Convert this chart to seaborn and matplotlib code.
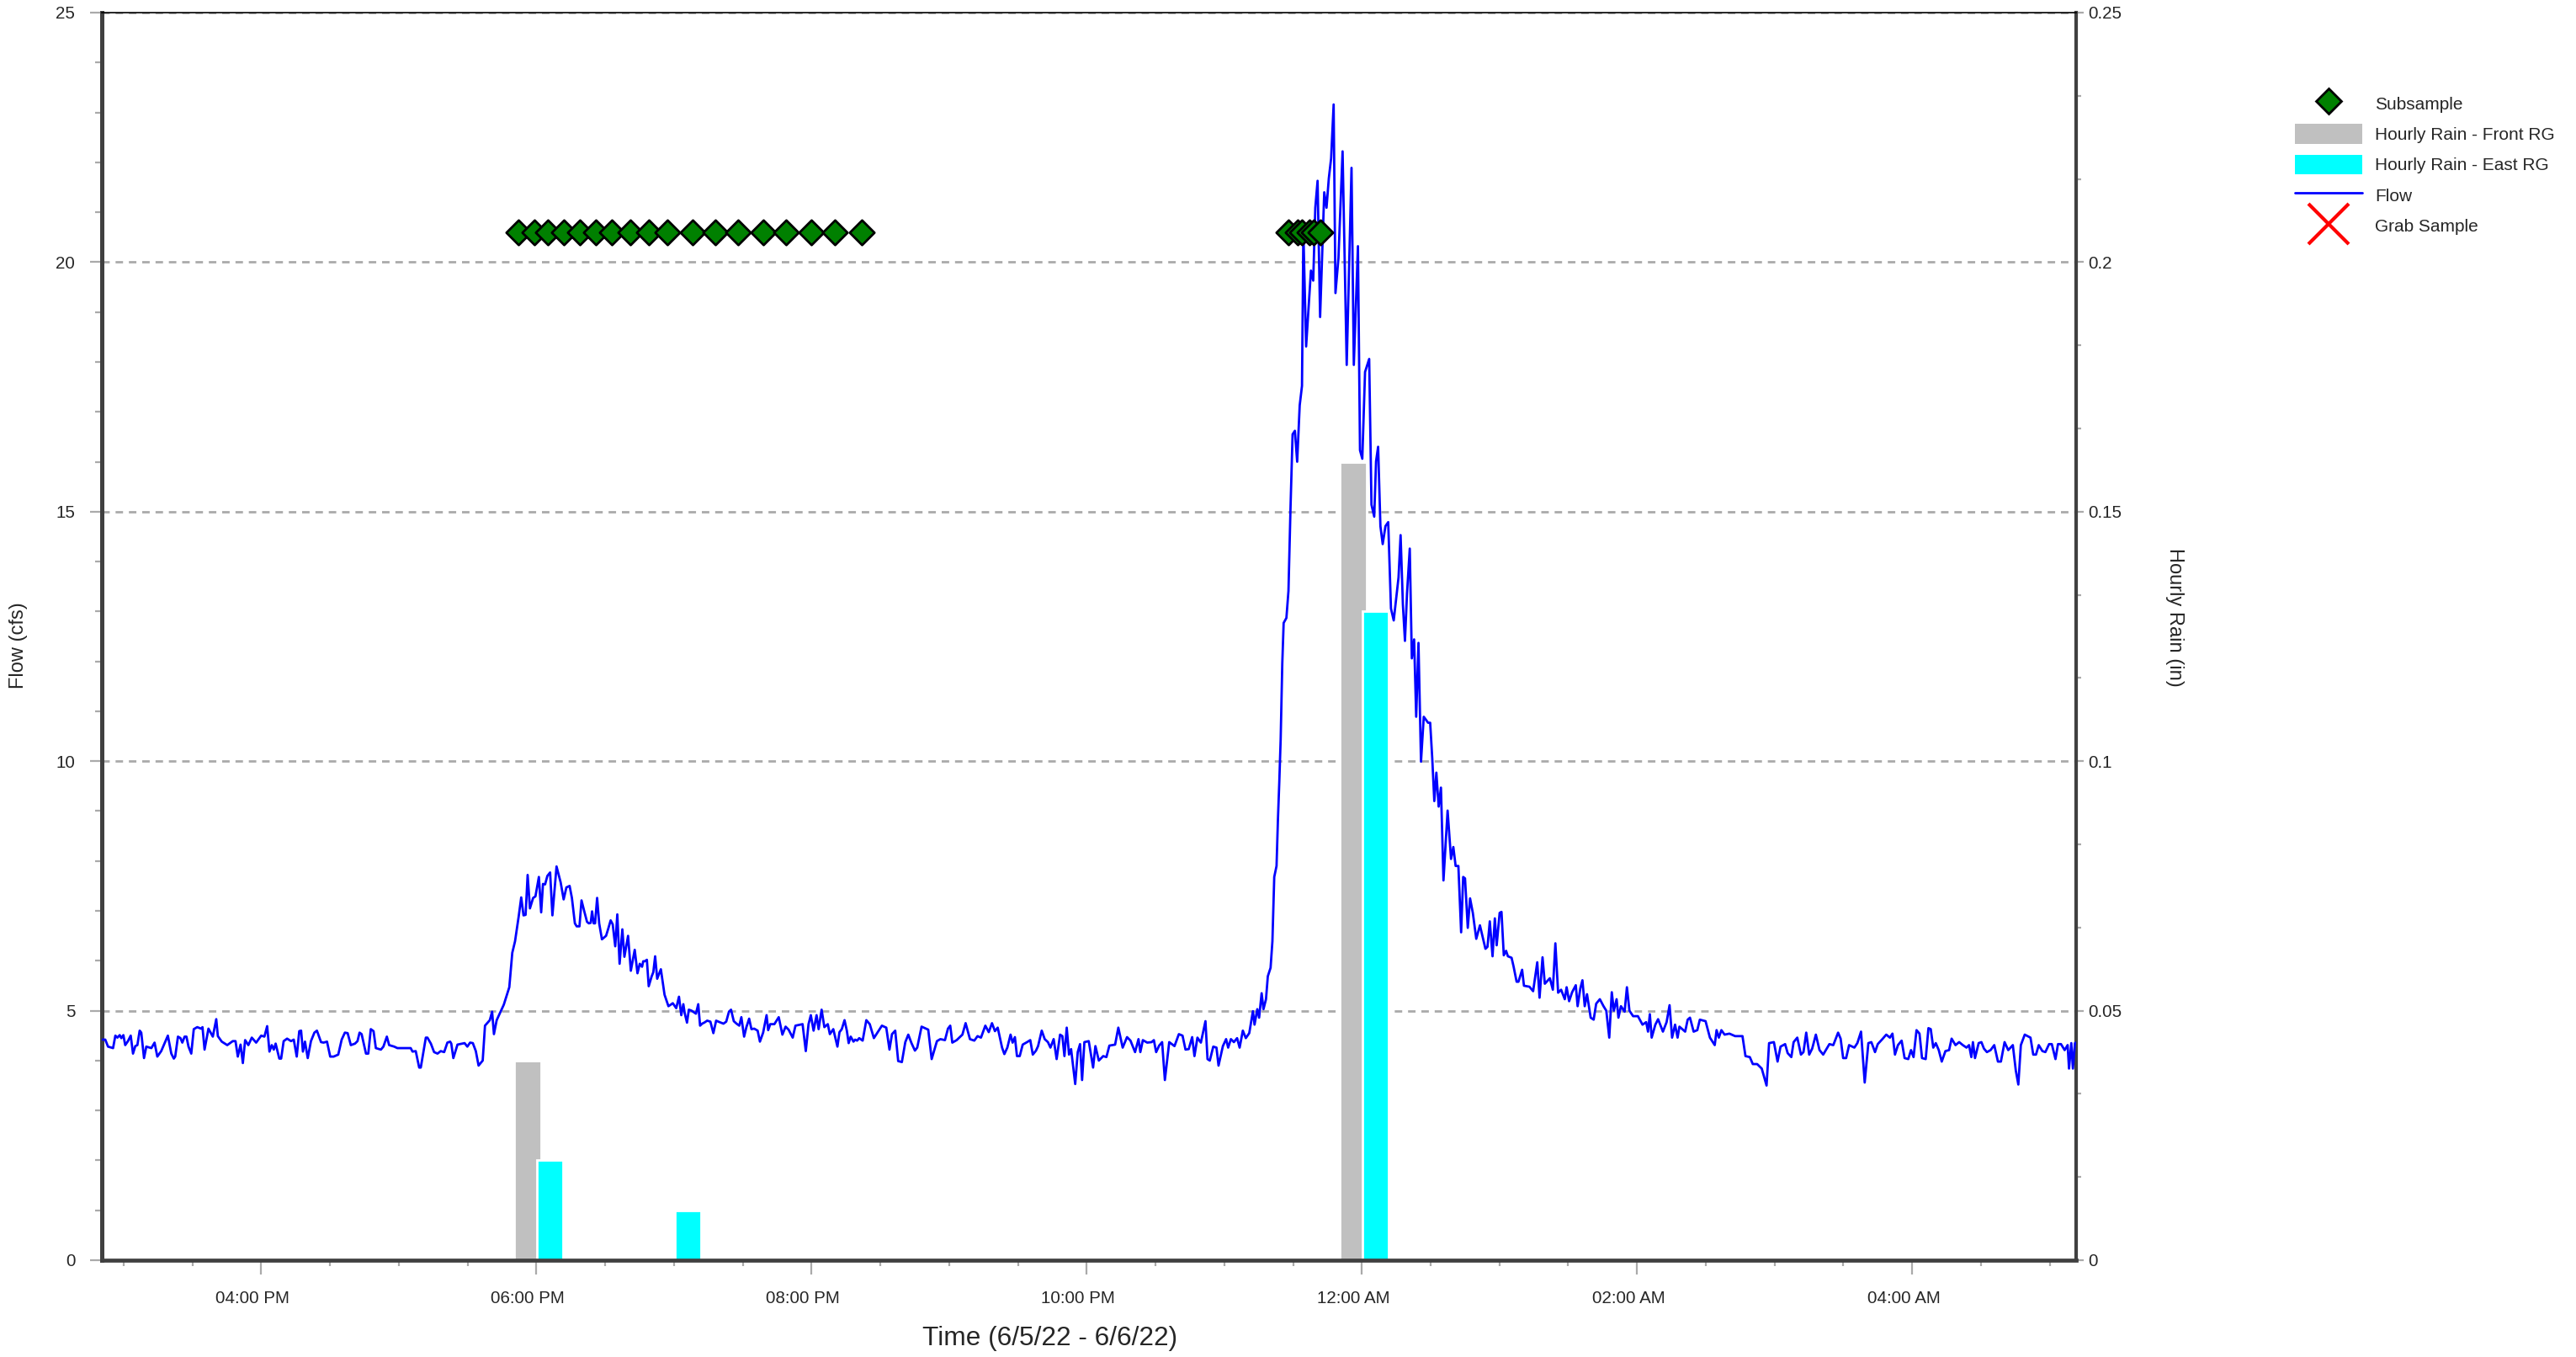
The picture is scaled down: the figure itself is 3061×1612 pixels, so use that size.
#!/usr/bin/env python3
"""
Storm event hydrograph: flow, hourly rain at two gauges and subsample times.
"""

import matplotlib
matplotlib.use("Agg")
import matplotlib.pyplot as plt
import matplotlib.dates as mdates
import matplotlib.transforms as mtransforms
from matplotlib.lines import Line2D
from matplotlib.patches import Patch
from matplotlib.ticker import MultipleLocator, AutoMinorLocator, FuncFormatter
import numpy as np
import pandas as pd
import seaborn as sns

sns.set_style("white")
plt.rcParams['font.family'] = ['Liberation Sans', 'DejaVu Sans']

DAY0 = pd.Timestamp("2022-06-05")

# Flow record: minutes after 6/5/22 00:00 and flow in cfs
flow_min = [
    890.3, 892.0, 893.2, 895.4, 896.4, 897.3, 898.3, 899.0, 899.9, 900.7,
    901.9, 903.1, 904.1, 905.1, 906.0, 907.0, 907.7, 908.9, 909.9, 912.1,
    913.5, 914.7, 916.4, 919.3, 920.8, 921.9, 922.5, 923.7, 924.8, 925.6,
    926.6, 927.4, 928.3, 929.5, 930.6, 932.1, 933.8, 934.4, 935.3, 937.0,
    938.9, 940.4, 941.1, 942.8, 945.2, 947.6, 948.8, 949.8, 951.0, 952.0,
    953.0, 954.4, 955.9, 957.8, 960.0, 961.4, 962.6, 963.6, 964.6, 965.5,
    966.3, 967.9, 968.7, 969.8, 971.3, 973.0, 974.2, 975.5, 976.6, 977.4,
    978.2, 979.1, 980.3, 981.7, 983.2, 984.3, 986.1, 987.2, 988.7, 990.1,
    991.6, 993.6, 995.1, 996.5, 997.7, 999.1, 1000.9, 1002.0, 1002.9, 1003.8,
    1005.7, 1006.7, 1007.8, 1009.0, 1010.0, 1012.2, 1013.3, 1014.8, 1015.8, 1018.0,
    1019.4, 1025.2, 1026.0, 1027.4, 1028.9, 1029.6, 1031.8, 1032.5, 1034.0, 1035.4,
    1036.9, 1038.3, 1039.8, 1041.2, 1042.4, 1042.9, 1043.8,
    1045.6, 1048.7, 1049.9, 1051.1, 1052.3, 1053.6, 1054.8, 1056.6, 1057.6, 1059.7,
    1060.7, 1061.5, 1062.7, 1065.8, 1068.2, 1069.5, 1070.7, 1072.3, 1073.4, 1074.4,
    1075.3, 1076.2, 1077.2, 1078.6, 1079.6, 1081.1, 1082.1, 1082.9, 1083.8, 1084.8,
    1086.0, 1087.0, 1088.8, 1090.6, 1091.9, 1093.1, 1094.5, 1095.5, 1096.8, 1097.6,
    1098.8, 1099.7, 1100.9, 1102.1, 1102.9, 1103.7, 1104.3, 1105.0, 1105.6, 1106.5,
    1107.4, 1108.6, 1110.4, 1111.4, 1112.4, 1113.3, 1114.4, 1115.3, 1116.3, 1117.5,
    1118.4, 1120.0, 1121.2, 1122.9, 1124.1, 1125.1, 1126.1, 1126.6, 1127.3, 1128.2,
    1129.0, 1130.3, 1131.0, 1131.8, 1132.7, 1134.3, 1135.9, 1137.6, 1138.6, 1139.5,
    1141.0, 1142.2, 1143.2, 1144.1, 1144.7, 1145.7, 1146.5, 1147.7, 1149.6, 1150.6,
    1151.4, 1152.3, 1153.2, 1154.5, 1155.9, 1157.2, 1158.4, 1159.4, 1161.6, 1162.8,
    1164.0, 1164.9, 1166.1, 1167.3, 1168.5, 1169.4, 1170.6, 1171.6, 1172.8, 1173.8,
    1175.0, 1176.5, 1177.5, 1178.9, 1180.4, 1181.1, 1182.0, 1183.8, 1185.7, 1187.3,
    1188.7, 1190.0, 1191.8, 1193.0, 1196.1, 1197.5, 1198.7, 1199.7, 1200.9, 1202.2,
    1203.1, 1204.4, 1205.6, 1207.1, 1208.0, 1209.5, 1211.3, 1212.2, 1213.2, 1214.4,
    1215.4, 1216.2, 1217.1, 1218.3, 1219.0, 1219.9, 1220.8, 1222.3, 1223.9, 1225.4,
    1227.2,
    1230.7, 1232.6, 1234.0, 1235.1, 1236.5, 1237.8, 1239.4, 1240.9, 1242.2, 1243.6,
    1245.1, 1246.1, 1248.0, 1250.9, 1252.4, 1254.7, 1256.2, 1258.2, 1259.5, 1260.5,
    1261.4, 1263.3, 1265.8, 1267.2, 1269.1, 1271.0, 1272.4, 1273.9, 1275.8, 1277.3,
    1278.7, 1280.0, 1281.2, 1283.1, 1284.1, 1285.4, 1286.8, 1287.7, 1288.7, 1289.6,
    1290.8, 1292.1, 1294.0, 1295.4, 1296.5, 1297.9, 1298.8, 1300.4, 1301.7, 1303.1,
    1304.2, 1305.6, 1306.9, 1308.4, 1309.4, 1310.3, 1311.3, 1312.3, 1313.2, 1315.0,
    1316.1, 1317.1, 1318.0, 1319.0, 1320.9, 1322.8, 1323.8, 1325.3, 1327.2, 1328.6,
    1329.9, 1332.4, 1333.8, 1335.7, 1337.6, 1339.1, 1341.1, 1342.6, 1343.4, 1344.5,
    1346.4, 1348.3, 1349.3, 1350.3, 1351.6, 1352.9, 1354.1, 1356.0, 1358.3, 1360.2,
    1361.8, 1363.1, 1364.5, 1366.0, 1367.0, 1368.3, 1369.8, 1371.8, 1372.7, 1373.7,
    1375.2, 1376.6, 1377.5, 1379.4, 1380.8, 1381.7, 1382.9, 1384.2, 1385.6, 1386.7,
    1388.1, 1389.4, 1390.9, 1392.5, 1393.2, 1394.4, 1395.2, 1396.3, 1397.1, 1398.2,
    1399.0, 1400.2,
    1401.0, 1401.8, 1402.8, 1403.4, 1404.0, 1404.6, 1405.3, 1405.9, 1407.1, 1408.0,
    1408.9, 1409.8, 1410.8, 1411.8, 1412.9, 1413.9, 1414.5, 1415.7, 1417.8, 1418.8,
    1419.7, 1420.7, 1421.8, 1423.6, 1424.6, 1425.6, 1426.6, 1427.7, 1428.5, 1429.8,
    1431.6, 1433.4, 1435.5, 1436.5, 1438.3, 1439.2, 1440.2, 1441.4, 1443.2, 1444.2,
    1445.4, 1446.2, 1447.1, 1448.1, 1449.1, 1450.3, 1451.5, 1452.7, 1453.9, 1456.0,
    1456.9, 1457.9, 1458.8, 1459.7, 1460.9, 1461.8, 1462.8, 1463.7, 1464.7, 1465.8,
    1467.0, 1468.9, 1469.8, 1470.7, 1471.6, 1472.5, 1473.5, 1474.5, 1475.6, 1477.4,
    1478.9, 1479.9, 1480.9, 1482.1, 1483.3, 1484.2, 1485.0, 1486.2, 1487.2, 1488.4,
    1489.9, 1491.5, 1493.9, 1494.8, 1495.8, 1497.0, 1498.0, 1498.8, 1500.1, 1500.9,
    1501.9, 1502.9, 1503.7, 1505.3,
    1506.2, 1507.5, 1508.3, 1509.9, 1510.7, 1513.1, 1514.7, 1516.5, 1517.5, 1518.8,
    1519.8, 1522.0, 1523.3, 1524.4, 1525.6, 1526.9, 1528.5, 1529.3, 1530.4, 1531.7,
    1533.3, 1534.1, 1535.3, 1536.2, 1537.2, 1538.2, 1539.8, 1541.1, 1542.2, 1543.8,
    1545.4, 1546.6, 1547.9, 1549.0, 1549.9, 1551.1, 1551.9, 1553.0, 1554.6, 1555.6,
    1556.7, 1558.3, 1560.4, 1562.4, 1564.0, 1564.8, 1565.6, 1566.4, 1568.0, 1569.2,
    1571.3, 1572.9, 1574.2, 1575.3, 1576.6, 1577.7, 1578.5, 1581.0, 1582.1, 1583.1,
    1584.7, 1586.3, 1587.4, 1589.9, 1591.8, 1593.9, 1594.7, 1595.7, 1596.8, 1598.2,
    1600.3, 1602.8, 1606.0, 1607.3, 1609.2, 1610.5, 1612.4, 1614.4, 1616.5, 1617.6,
    1619.7, 1621.3, 1622.6, 1624.6, 1625.7, 1627.3, 1628.3, 1629.9, 1631.5, 1632.6,
    1633.8, 1635.1, 1636.4, 1638.0, 1639.6, 1641.2, 1643.9, 1645.6, 1647.7, 1648.8,
    1649.9, 1651.2, 1652.5, 1654.8, 1656.1, 1657.7, 1659.3, 1660.9, 1662.2, 1663.8,
    1665.0, 1667.0, 1668.7, 1670.3, 1671.4, 1672.5, 1673.8, 1675.4, 1676.7, 1678.3,
    1679.5, 1680.6, 1681.9, 1683.2, 1684.3, 1685.9, 1687.1, 1688.1, 1689.2, 1690.3,
    1691.6, 1692.9, 1694.5, 1696.1, 1697.2, 1698.9, 1700.5, 1702.1, 1703.7, 1704.8,
    1705.8, 1706.5, 1707.4, 1709.0, 1710.2, 1711.3, 1712.6, 1714.2, 1715.8, 1717.4,
    1718.7, 1720.3, 1721.9, 1723.9, 1725.2, 1726.3, 1727.4, 1729.1, 1731.6, 1732.8,
    1734.0, 1735.2, 1736.8, 1738.1, 1739.7, 1740.9, 1742.5, 1743.6, 1744.9, 1746.5,
    1747.8, 1748.4, 1749.4, 1750.1, 1751.0, 1752.2,
]

flow_cfs = [
    4.42, 4.42, 4.28, 4.25, 4.50, 4.46, 4.51, 4.45, 4.51, 4.31,
    4.39, 4.50, 4.14, 4.29, 4.31, 4.60, 4.56, 4.05, 4.28, 4.25,
    4.36, 4.08, 4.19, 4.50, 4.14, 4.04, 4.08, 4.48, 4.45, 4.36,
    4.48, 4.48, 4.28, 4.14, 4.63, 4.67, 4.64, 4.67, 4.22, 4.64,
    4.48, 4.83, 4.49, 4.38, 4.31, 4.39, 4.39, 4.08, 4.32, 3.95,
    4.41, 4.31, 4.46, 4.36, 4.50, 4.48, 4.69, 4.18, 4.31, 4.22,
    4.34, 4.04, 4.04, 4.39, 4.44, 4.39, 4.42, 4.08, 4.59, 4.60,
    4.18, 4.38, 4.05, 4.39, 4.56, 4.60, 4.37, 4.36, 4.38, 4.08,
    4.08, 4.12, 4.42, 4.56, 4.55, 4.31, 4.34, 4.39, 4.56, 4.53,
    4.14, 4.14, 4.63, 4.59, 4.25, 4.22, 4.28, 4.48, 4.31, 4.28,
    4.25, 4.25, 4.18, 4.19, 3.86, 3.86, 4.46, 4.46, 4.34, 4.17,
    4.14, 4.19, 4.17, 4.36, 4.38, 4.34, 4.05,
    4.32, 4.35, 4.28, 4.36, 4.35, 4.19, 3.90, 4.00, 4.70, 4.81,
    4.98, 4.53, 4.81, 5.12, 5.47, 6.16, 6.39, 6.89, 7.27, 6.91,
    6.92, 7.72, 7.05, 7.26, 7.29, 7.68, 6.97, 7.54, 7.53, 7.70,
    7.77, 6.91, 7.89, 7.57, 7.23, 7.47, 7.50, 7.26, 6.75, 6.69,
    6.69, 7.21, 6.99, 6.78, 6.75, 6.76, 6.99, 6.75, 6.75, 7.26,
    6.75, 6.43, 6.50, 6.65, 6.81, 6.73, 6.29, 6.93, 5.94, 6.63,
    6.08, 6.50, 5.80, 6.22, 5.75, 5.94, 5.88, 5.99, 5.99, 6.02,
    5.49, 5.69, 5.77, 6.09, 5.64, 5.83, 5.32, 5.09, 5.12, 5.15,
    5.05, 5.28, 4.91, 5.13, 4.95, 4.76, 5.02, 5.00, 4.94, 5.13,
    4.70, 4.74, 4.76, 4.80, 4.78, 4.55, 4.80, 4.78, 4.74, 4.78,
    4.98, 5.02, 4.79, 4.74, 4.70, 4.87, 4.48, 4.67, 4.84, 4.63,
    4.64, 4.60, 4.38, 4.56, 4.91, 4.61, 4.73, 4.73, 4.87, 4.52,
    4.68, 4.62, 4.46, 4.70, 4.73, 4.19, 4.73, 4.91, 4.60, 4.91,
    4.63, 5.02, 4.67, 4.73, 4.53, 4.63, 4.28, 4.57, 4.63, 4.81,
    4.60, 4.35, 4.48, 4.38, 4.42, 4.40, 4.45, 4.40, 4.81, 4.73,
    4.45,
    4.70, 4.66, 4.22, 4.53, 4.60, 3.99, 3.97, 4.37, 4.52, 4.35,
    4.20, 4.26, 4.68, 4.62, 4.03, 4.39, 4.43, 4.41, 4.64, 4.70,
    4.36, 4.41, 4.52, 4.75, 4.43, 4.40, 4.49, 4.46, 4.70, 4.57,
    4.75, 4.59, 4.66, 4.26, 4.13, 4.26, 4.52, 4.36, 4.47, 4.09,
    4.09, 4.32, 4.37, 4.41, 4.12, 4.20, 4.29, 4.60, 4.43, 4.37,
    4.26, 4.43, 4.03, 4.52, 4.49, 4.09, 4.66, 4.12, 4.23, 3.53,
    4.17, 4.33, 3.61, 4.37, 4.39, 3.86, 4.29, 4.00, 4.09, 4.07,
    4.30, 4.32, 4.66, 4.26, 4.47, 4.40, 4.17, 4.43, 4.17, 4.41,
    4.36, 4.37, 4.41, 4.17, 4.30, 4.37, 3.61, 4.37, 4.29, 4.53,
    4.50, 4.22, 4.23, 4.47, 4.09, 4.46, 4.36, 4.79, 4.03, 4.00,
    4.28, 4.26, 3.90, 4.29, 4.43, 4.26, 4.43, 4.37, 4.45, 4.26,
    4.60, 4.45, 4.55, 4.99, 4.72, 5.03, 4.86, 5.35, 5.03, 5.23,
    5.69, 5.86,
    6.39, 7.68, 7.90, 8.82, 9.58, 10.44, 11.95, 12.77, 12.87, 13.41,
    15.09, 16.55, 16.62, 16.00, 17.13, 17.52, 20.61, 18.31, 19.83, 19.63,
    21.09, 21.63, 18.90, 21.40, 21.09, 21.68, 22.08, 23.16, 19.38, 20.08,
    22.22, 17.94, 21.89, 17.94, 20.32, 16.23, 16.06, 17.80, 18.06, 15.14,
    14.90, 16.01, 16.30, 14.71, 14.35, 14.71, 14.79, 13.06, 12.82, 13.68,
    14.53, 13.14, 12.41, 13.36, 14.26, 12.06, 12.44, 10.89, 12.37, 9.99,
    10.89, 10.77, 10.77, 10.06, 9.20, 9.77, 9.09, 9.47, 7.61, 9.01,
    8.04, 8.28, 7.90, 7.90, 6.57, 7.68, 7.65, 6.66, 7.25, 6.96,
    6.44, 6.71, 6.24, 6.28, 6.79, 6.09, 6.85, 6.31, 6.96, 6.98,
    6.11, 6.20, 6.09, 6.06,
    5.88, 5.58, 5.58, 5.82, 5.50, 5.48, 5.39, 5.97, 5.26, 6.07,
    5.54, 5.65, 5.42, 6.35, 5.36, 5.42, 5.23, 5.47, 5.19, 5.37,
    5.51, 5.09, 5.45, 5.61, 5.09, 5.33, 4.86, 4.82, 5.14, 5.23,
    5.09, 5.00, 4.46, 5.37, 5.00, 5.23, 4.86, 5.09, 4.98, 5.47,
    5.00, 4.89, 4.89, 4.72, 4.77, 4.58, 4.93, 4.46, 4.72, 4.83,
    4.58, 4.77, 5.11, 4.46, 4.72, 4.46, 4.68, 4.58, 4.82, 4.86,
    4.58, 4.61, 4.82, 4.79, 4.46, 4.31, 4.61, 4.46, 4.61, 4.52,
    4.54, 4.49, 4.49, 4.09, 4.07, 3.93, 3.93, 3.84, 3.50, 4.35,
    4.37, 3.98, 4.28, 4.33, 4.15, 4.07, 4.37, 4.46, 4.12, 4.17,
    4.56, 4.12, 4.24, 4.52, 4.21, 4.12, 4.33, 4.31, 4.56, 4.44,
    4.05, 4.05, 4.31, 4.26, 4.35, 4.58, 3.56, 4.35, 4.37, 4.17,
    4.33, 4.43, 4.52, 4.46, 4.54, 4.12, 4.31, 4.40, 4.05, 4.03,
    4.21, 4.07, 4.61, 4.54, 4.05, 4.03, 4.65, 4.63, 4.26, 4.35,
    4.21, 3.98, 4.19, 4.21, 4.44, 4.31, 4.37, 4.31, 4.26, 4.31,
    4.07, 4.37, 4.05, 4.35, 4.37, 4.24, 4.17, 4.21, 4.31, 3.98,
    3.98, 4.37, 4.21, 4.31, 3.80, 3.52, 4.31, 4.52, 4.46, 4.12,
    4.12, 4.31, 4.19, 4.17, 4.33, 4.33, 4.03, 4.33, 4.33, 4.21,
    4.31, 3.84, 4.35, 3.84, 4.35, 4.37,
]

# Composite subsample times
subsample_times = [
    "2022-06-05 17:52", "2022-06-05 17:59", "2022-06-05 18:05", "2022-06-05 18:12",
    "2022-06-05 18:19", "2022-06-05 18:26", "2022-06-05 18:33", "2022-06-05 18:41",
    "2022-06-05 18:49", "2022-06-05 18:57", "2022-06-05 19:08", "2022-06-05 19:18",
    "2022-06-05 19:28", "2022-06-05 19:39", "2022-06-05 19:49", "2022-06-05 20:00",
    "2022-06-05 20:10", "2022-06-05 20:22",
    "2022-06-05 23:28", "2022-06-05 23:32", "2022-06-05 23:34", "2022-06-05 23:37",
    "2022-06-05 23:39", "2022-06-05 23:42",
]
SUBSAMPLE_LEVEL = 20.6  # markers are drawn as a row at this flow level

# Hourly rain (in) at the two rain gauges
rain_hours = ["2022-06-05 18:00", "2022-06-05 19:00", "2022-06-06 00:00"]
rain_front = [0.04, 0.00, 0.16]
rain_east = [0.02, 0.01, 0.13]

X_START = "2022-06-05 14:50:30"
X_END = "2022-06-06 05:11:30"

SPINE = '#404040'
TICK = '#AAAAAA'
DPI = 200


def to_num(times):
    return mdates.date2num(pd.to_datetime(times))


def main():
    assert len(flow_min) == len(flow_cfs)
    flow_x = mdates.date2num(DAY0 + pd.to_timedelta(flow_min, unit='m'))
    sub_x = to_num(subsample_times)
    rain_x = to_num(rain_hours)

    fig = plt.figure(figsize=(3061 / DPI, 1612 / DPI), dpi=DPI)
    fig.patch.set_facecolor('white')
    ax = fig.add_axes([121 / 3061, 1 - 1497 / 1612, (2467 - 121) / 3061, (1497 - 15) / 1612])
    ax2 = ax.twinx()
    # flow on top of the rain bars, gridlines below the bars
    ax.set_zorder(ax2.get_zorder() + 1)
    ax.patch.set_visible(False)

    # Rain bars (right axis)
    minute = 1.0 / 1440
    bar_w = 11.5 * minute
    ax2.bar(rain_x - 3.8 * minute, rain_front, width=bar_w, color='#C0C0C0', zorder=2)
    ax2.bar(rain_x + 6.0 * minute, rain_east, width=bar_w, color='#00FFFF', zorder=3)
    ax2.set_ylim(0, 0.25)
    ax2.yaxis.set_major_locator(MultipleLocator(0.05))
    ax2.yaxis.set_minor_locator(AutoMinorLocator(3))
    ax2.yaxis.set_major_formatter(FuncFormatter(lambda v, p: f'{v:g}'))
    ax2.set_axisbelow(True)
    ax2.yaxis.grid(True, which='major', color=TICK, linestyle=(0, (3.2, 2.5)), linewidth=1.0)
    for s in ax2.spines.values():
        s.set_visible(False)
    ax2.tick_params(axis='y', which='major', right=True, length=3.2, width=0.8,
                    color=TICK, labelsize=7.4, pad=2)
    ax2.tick_params(axis='y', which='minor', right=True, length=2.2, width=0.8, color=TICK)
    ax2.set_ylabel('Hourly Rain (in)', fontsize=8.5, rotation=270, va='bottom')
    ax2.yaxis.set_label_coords(1.045, 0.515)

    # Flow line and subsample markers (left axis)
    sns.lineplot(x=flow_x, y=flow_cfs, ax=ax, color='#0000FF', linewidth=1.0,
                 estimator=None, sort=False, legend=False, zorder=3)
    sns.scatterplot(x=sub_x, y=np.full(len(sub_x), SUBSAMPLE_LEVEL), ax=ax,
                    marker='D', s=56, color='#008000', edgecolor='black',
                    linewidth=1.0, legend=False, zorder=4)

    ax.set_xlim(to_num([X_START])[0], to_num([X_END])[0])
    ax.set_ylim(0, 25)
    ax.yaxis.set_major_locator(MultipleLocator(5))
    ax.yaxis.set_minor_locator(AutoMinorLocator(5))
    ax.xaxis.set_major_locator(mdates.HourLocator(byhour=range(0, 24, 2)))
    ax.xaxis.set_minor_locator(mdates.MinuteLocator(byminute=[0, 30]))
    ax.xaxis.set_major_formatter(mdates.DateFormatter('%I:%M %p'))
    ax.grid(False)

    for side in ('left', 'bottom', 'right'):
        ax.spines[side].set_color(SPINE)
    ax.spines['left'].set_linewidth(1.8)
    ax.spines['bottom'].set_linewidth(1.7)
    ax.spines['right'].set_linewidth(1.5)
    ax.spines['top'].set_color('black')
    ax.spines['top'].set_linewidth(0.6)

    ax.tick_params(axis='y', which='major', left=True, length=4.9, width=0.8,
                   color=TICK, labelsize=7.4, pad=6.5)
    ax.tick_params(axis='y', which='minor', left=True, length=2.9, width=0.8, color=TICK)
    ax.tick_params(axis='x', which='major', bottom=True, length=6.0, width=0.8,
                   color=TICK, labelsize=7.4, pad=7)
    ax.tick_params(axis='x', which='minor', bottom=True, length=2.5, width=0.8, color=TICK)

    # time labels sit a little left of their tick marks
    shift = mtransforms.ScaledTranslation(-10 / DPI, 0, fig.dpi_scale_trans)
    for tick in ax.xaxis.get_major_ticks():
        tick.label1.set_transform(tick.label1.get_transform() + shift)

    ax.set_ylabel('Flow (cfs)', fontsize=8.5)
    ax.yaxis.set_label_coords(-0.0375, 0.4926)
    ax.set_xlabel('Time (6/5/22 - 6/6/22)', fontsize=11.4)
    ax.xaxis.set_label_coords(0.480, -0.0526)

    # Legend outside the plot on the right
    handles = [
        Line2D([], [], linestyle='none', marker='D', markersize=7.6,
               markerfacecolor='#008000', markeredgecolor='black', markeredgewidth=1.0),
        Patch(facecolor='#C0C0C0', edgecolor='none'),
        Patch(facecolor='#00FFFF', edgecolor='none'),
        Line2D([], [], color='#0000FF', linewidth=1.0),
        Line2D([], [], linestyle='none', marker='x', markersize=17,
               markeredgecolor='#FF0000', markeredgewidth=1.5),
    ]
    labels = ['Subsample', 'Hourly Rain - Front RG', 'Hourly Rain - East RG',
              'Flow', 'Grab Sample']
    fig.legend(handles, labels, loc='upper left',
               bbox_to_anchor=(2727 / 3061, 1 - 111 / 1612),
               frameon=False, borderpad=0, borderaxespad=0, fontsize=7.5,
               handlelength=3.85, handleheight=1.35, handletextpad=0.72,
               labelspacing=0.62, numpoints=1)

    fig.savefig('out.png', dpi=DPI, facecolor='white')
    plt.close(fig)


if __name__ == "__main__":
    main()
